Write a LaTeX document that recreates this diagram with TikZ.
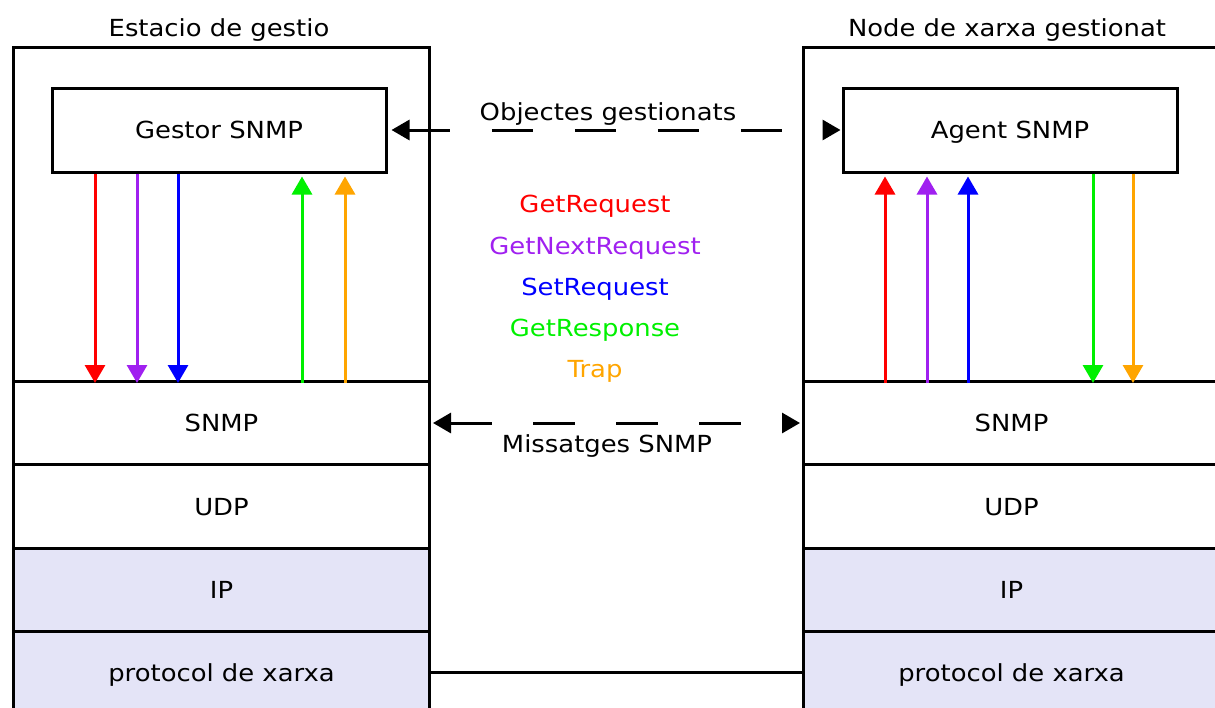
\documentclass[tikz,border=0pt]{standalone}
\usepackage{fontspec}
\setmainfont{DejaVu Sans}[FakeStretch=1.1]
\usetikzlibrary{arrows.meta}
\definecolor{lav}{HTML}{E4E4F7}
\definecolor{cred}{HTML}{FF0000}
\definecolor{cpurple}{HTML}{A020F0}
\definecolor{cblue}{HTML}{0000FF}
\definecolor{cgreen}{HTML}{00F000}
\definecolor{corange}{HTML}{FFA500}
\begin{document}
\begin{tikzpicture}[x=1pt,y=-1pt,
  font=\fontsize{23.5pt}{28pt}\selectfont,
  layer/.style={draw, line width=3pt, minimum width=416pt, inner sep=0pt,
    text height=17pt, text depth=0pt},
  stackbox/.style={layer, anchor=north west},
  appbox/.style={draw, line width=3pt, minimum width=334pt, minimum height=84pt,
    inner sep=0pt, text height=17pt, text depth=0pt},
  lbl/.style={anchor=base, inner sep=0pt},
  tip/.style={-{Triangle[length=18pt,width=20pt]}},
  carrow/.style={line width=3pt, tip},
  darrow/.style={line width=3pt, {Triangle[length=18pt,width=20pt]}-{Triangle[length=18pt,width=20pt]},
    dash pattern=on 41.5pt off 41.5pt},
]
\useasboundingbox (0,0) rectangle (1215,707);
\clip (0,0) rectangle (1215,707);

% management station stack
\node[stackbox, minimum height=334pt] (lapp) at (12,46) {};
\node[stackbox, minimum height=83pt] (lsnmp) at (12,380) {SNMP};
\node[stackbox, minimum height=84pt] (ludp) at (12,463) {UDP};
\node[stackbox, fill=lav, minimum height=83pt] (lip) at (12,547) {IP};
\node[stackbox, fill=lav, minimum height=82pt] (lnet) at (12,630) {protocol de xarxa};

% managed node stack
\node[stackbox, minimum height=334pt] (rapp) at (802,46) {};
\node[stackbox, minimum height=83pt] (rsnmp) at (802,380) {SNMP};
\node[stackbox, minimum height=84pt] (rudp) at (802,463) {UDP};
\node[stackbox, fill=lav, minimum height=83pt] (rip) at (802,547) {IP};
\node[stackbox, fill=lav, minimum height=82pt] (rnet) at (802,630) {protocol de xarxa};

% titles
\node[lbl] (ltitle) at (219,36) {Estacio de gestio};
\node[lbl] (rtitle) at (1007,36) {Node de xarxa gestionat};

% manager and agent
\node[appbox] (gestor) at (219,130) {Gestor SNMP};
\node[appbox] (agent) at (1010,130) {Agent SNMP};

% manager side PDUs
\draw[carrow, cred]    (95,0 |- gestor.south)  -- (95,0 |- lapp.south);
\draw[carrow, cpurple] (137,0 |- gestor.south) -- (137,0 |- lapp.south);
\draw[carrow, cblue]   (178,0 |- gestor.south) -- (178,0 |- lapp.south);
\draw[carrow, cgreen, shorten >=3pt]  (302,0 |- lapp.south) -- (302,0 |- gestor.south);
\draw[carrow, corange, shorten >=3pt] (345,0 |- lapp.south) -- (345,0 |- gestor.south);

% agent side PDUs
\draw[carrow, cred, shorten >=3pt]    (885,0 |- rapp.south) -- (885,0 |- agent.south);
\draw[carrow, cpurple, shorten >=3pt] (927,0 |- rapp.south) -- (927,0 |- agent.south);
\draw[carrow, cblue, shorten >=3pt]   (968,0 |- rapp.south) -- (968,0 |- agent.south);
\draw[carrow, cgreen]  (1093,0 |- agent.south) -- (1093,0 |- rapp.south);
\draw[carrow, corange] (1133,0 |- agent.south) -- (1133,0 |- rapp.south);

% PDU legend
\node[lbl, text=cred]    (pget)  at (595,212) {GetRequest};
\node[lbl, text=cpurple] (pnext) at (595,254) {GetNextRequest};
\node[lbl, text=cblue]   (pset)  at (595,295) {SetRequest};
\node[lbl, text=cgreen]  (presp) at (595,336.5) {GetResponse};
\node[lbl, text=corange] (ptrap) at (595,377) {Trap};

% logical exchanges
\draw[darrow, shorten <=4pt, shorten >=1pt] (gestor.east) -- (agent.west);
\node[lbl] (objs) at (608,120) {Objectes gestionats};
\draw[darrow, shorten <=2pt, shorten >=2pt] (lsnmp.east) -- (rsnmp.west);
\node[lbl] (msgs) at (607,452) {Missatges SNMP};

% physical link
\draw[line width=2.5pt] (lnet.east) -- (rnet.west);
\end{tikzpicture}
\end{document}
